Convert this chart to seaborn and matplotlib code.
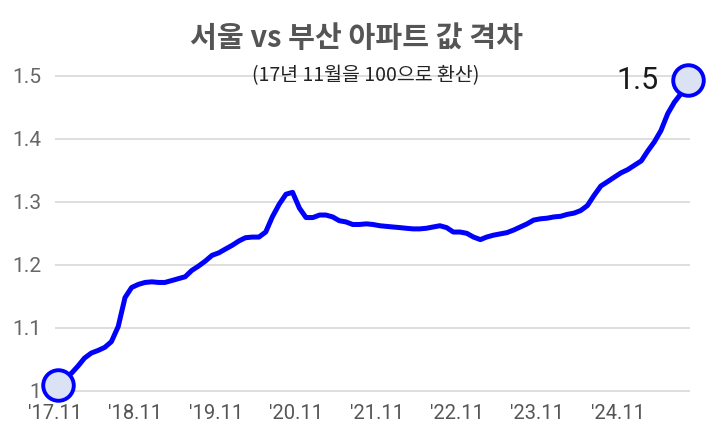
import pandas as pd
import seaborn as sns
import matplotlib.pyplot as plt

# Seoul / Busan apartment price ratio, Nov 2017 = 1 (monthly)
ratio = [
    1.010, 1.020, 1.028, 1.040, 1.052, 1.060, 1.064, 1.069, 1.078, 1.102,
    1.148, 1.164, 1.169, 1.172, 1.173, 1.172, 1.172, 1.175, 1.178, 1.181,
    1.191, 1.198, 1.206, 1.215, 1.219, 1.225, 1.231, 1.238, 1.243, 1.244,
    1.244, 1.252, 1.276, 1.296, 1.312, 1.315, 1.290, 1.275, 1.275, 1.279,
    1.279, 1.276, 1.270, 1.268, 1.264, 1.264, 1.265, 1.264, 1.262, 1.261,
    1.260, 1.259, 1.258, 1.257, 1.257, 1.258, 1.260, 1.262, 1.259, 1.252,
    1.252, 1.250, 1.244, 1.240, 1.244, 1.247, 1.249, 1.251, 1.255, 1.260,
    1.265, 1.271, 1.273, 1.274, 1.276, 1.277, 1.280, 1.282, 1.286, 1.294,
    1.310, 1.325, 1.332, 1.339, 1.346, 1.351, 1.358, 1.365, 1.380, 1.395,
    1.413, 1.440, 1.458, 1.472, 1.494,
]
start_month = "2017-11-01"
tick_dates = ["2017-11-01", "2018-11-01", "2019-11-01", "2020-11-01",
              "2021-11-01", "2022-11-01", "2023-11-01", "2024-11-01"]
tick_labels = ["'17.11", "'18.11", "'19.11", "'20.11",
               "'21.11", "'22.11", "'23.11", "'24.11"]
y_ticks = [1.0, 1.1, 1.2, 1.3, 1.4, 1.5]
y_labels = ["1", "1.1", "1.2", "1.3", "1.4", "1.5"]
end_label = "1.5"

dates = pd.date_range(start_month, periods=len(ratio), freq="MS") + pd.Timedelta(days=14)
df = pd.DataFrame({"date": dates, "ratio": ratio})

sns.set_style("white")
plt.rcParams["font.family"] = ["Roboto", "Noto Sans CJK KR", "DejaVu Sans"]
kr = ["Noto Sans CJK KR", "DejaVu Sans"]

fig = plt.figure(figsize=(7.13, 4.28), dpi=100)
ax = fig.add_axes([55 / 713, 34 / 428, 635 / 713, 334 / 428])

sns.lineplot(data=df, x="date", y="ratio", ax=ax, color="#0000ff", linewidth=3.6,
             solid_capstyle="round", solid_joinstyle="round")

ends = df.iloc[[0, -1]]
ax.plot(ends["date"], ends["ratio"], "o", ms=22, mfc="#dbe2f3", mec="#0000ff",
        mew=2.8, clip_on=False, zorder=5)

ax.annotate(end_label, (df["date"].iloc[-1], df["ratio"].iloc[-1]),
            xytext=(-21, -1), textcoords="offset points", ha="right", va="center",
            fontsize=22, color="#1a1a1a")

ax.set_xlim(pd.Timestamp("2017-11-01"), pd.Timestamp("2025-09-24"))
ax.set_ylim(0.995, 1.525)
ax.set_xticks(pd.to_datetime(tick_dates))
ax.set_xticklabels(tick_labels)
ax.set_yticks(y_ticks)
ax.set_yticklabels(y_labels)
ax.set_xlabel("")
ax.set_ylabel("")

ax.grid(axis="y", color="#d4d4d4", linewidth=1.1)
ax.grid(axis="x", visible=False)
sns.despine(ax=ax, left=True, bottom=True)
ax.tick_params(axis="x", length=3, width=0.8, color="#cccccc", pad=4,
               labelsize=14.5, labelcolor="#555555")
ax.tick_params(axis="y", length=0, pad=10, labelsize=15, labelcolor="#666666")

fig.text(0.5, 0.912, "서울 vs 부산 아파트 값 격차", ha="center", va="center",
         fontsize=21, fontweight="bold", color="#555555", family=kr)
ax.text(0.49, 1.5, "(17년 11월을 100으로 환산)", transform=ax.get_yaxis_transform(),
        ha="center", va="center", fontsize=14, color="#222222", family=kr)

fig.savefig("out.png", dpi=100)
